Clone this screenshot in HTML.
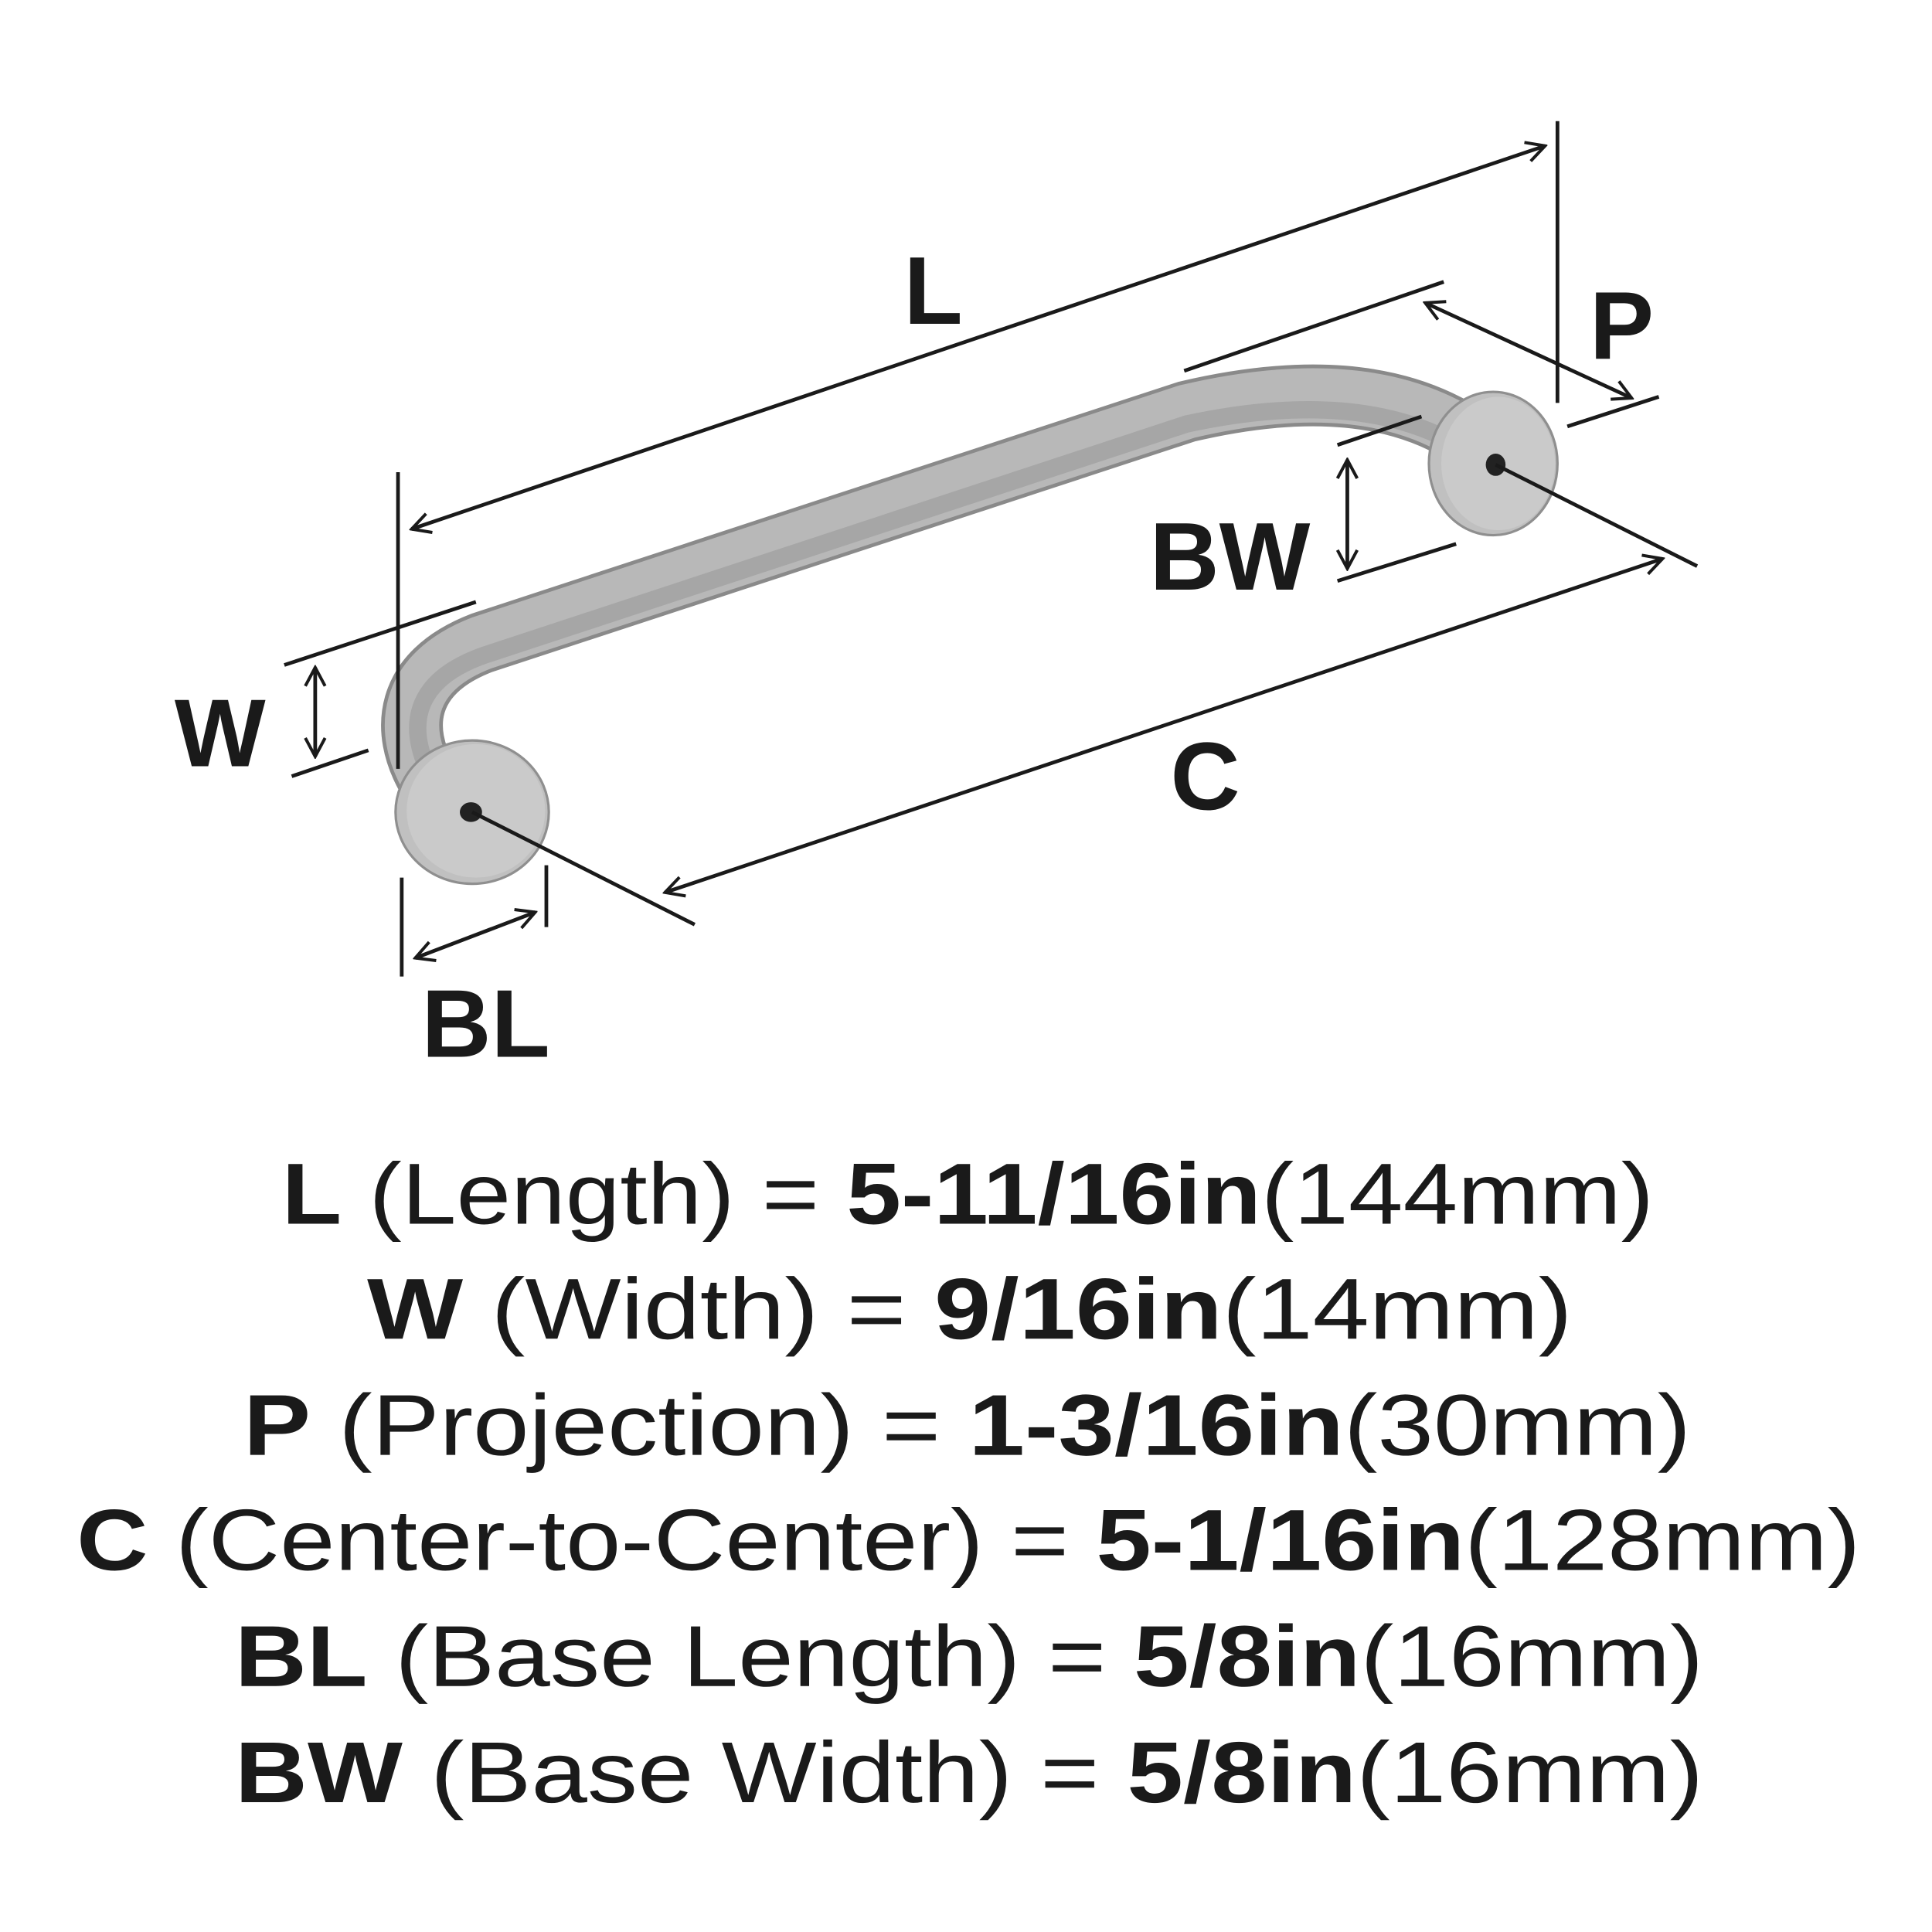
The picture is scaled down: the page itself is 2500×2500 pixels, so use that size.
<!DOCTYPE html>
<html><head><meta charset="utf-8"><style>html,body{margin:0;padding:0;background:#fff}svg{display:block}</style></head>
<body>
<svg width="2500" height="2500" viewBox="0 0 1563 1563" xmlns="http://www.w3.org/2000/svg">
<defs>
<marker id="a" viewBox="0 0 20 20" refX="18" refY="10" markerWidth="20" markerHeight="20" orient="auto-start-reverse" markerUnits="userSpaceOnUse"><path d="M3,2 L18,10 L3,18" fill="none" stroke="#1a1a1a" stroke-width="2.5"/></marker>
</defs>
<!-- handle -->
<path d="M345,628 C325,592 325,545 390,520 L960,333 Q1100,300 1182,350" fill="none" stroke="#8a8a8a" stroke-width="50" stroke-linecap="round"/>
<path d="M345,628 C325,592 325,545 390,520 L960,333 Q1100,300 1182,350" fill="none" stroke="#b8b8b8" stroke-width="44" stroke-linecap="round"/>
<path d="M343,615 C332,585 335,550 392,530 L960,343 Q1090,315 1170,355" fill="none" stroke="#a6a6a6" stroke-width="14" stroke-linecap="round"/>
<ellipse cx="382" cy="657" rx="62" ry="58" fill="#c0c0c0" stroke="#8f8f8f" stroke-width="2"/>
<ellipse cx="385" cy="656" rx="56" ry="54" fill="#cacaca"/>
<ellipse cx="381" cy="657" rx="9" ry="8" fill="#222"/>
<ellipse cx="1208" cy="375" rx="52" ry="58" fill="#c0c0c0" stroke="#8f8f8f" stroke-width="2"/>
<ellipse cx="1212" cy="375" rx="46" ry="54" fill="#cacaca"/>
<ellipse cx="1210" cy="376" rx="8" ry="9" fill="#222"/>
<g stroke="#1a1a1a" stroke-width="3" fill="none">
<line x1="322" y1="382" x2="322" y2="622"/>
<line x1="1260" y1="98" x2="1260" y2="326"/>
<line x1="333" y1="428" x2="1250" y2="118" marker-start="url(#a)" marker-end="url(#a)"/>
<line x1="958" y1="300" x2="1168" y2="228"/>
<line x1="1268" y1="345" x2="1342" y2="321"/>
<line x1="1153" y1="245" x2="1320" y2="322" marker-start="url(#a)" marker-end="url(#a)"/>
<line x1="1082" y1="360" x2="1150" y2="337"/>
<line x1="1082" y1="470" x2="1178" y2="440"/>
<line x1="1090" y1="372" x2="1090" y2="460" marker-start="url(#a)" marker-end="url(#a)"/>
<line x1="230" y1="538" x2="385" y2="487"/>
<line x1="236" y1="628" x2="298" y2="607"/>
<line x1="255" y1="540" x2="255" y2="612" marker-start="url(#a)" marker-end="url(#a)"/>
<line x1="382" y1="657" x2="562" y2="748"/>
<line x1="1210" y1="376" x2="1373" y2="458"/>
<line x1="538" y1="722" x2="1345" y2="452" marker-start="url(#a)" marker-end="url(#a)"/>
<line x1="325" y1="710" x2="325" y2="790"/>
<line x1="442" y1="700" x2="442" y2="750"/>
<line x1="336" y1="775" x2="433" y2="738" marker-start="url(#a)" marker-end="url(#a)"/>
</g>
<g font-family="Liberation Sans, sans-serif" font-weight="bold" font-size="78" fill="#1a1a1a" text-anchor="middle">
<text x="755" y="262">L</text>
<text x="1312" y="290">P</text>
<text x="995" y="477">BW</text>
<text x="178" y="620">W</text>
<text x="975" y="655">C</text>
<text x="393" y="855">BL</text>
</g>
<g font-family="Liberation Sans, sans-serif" font-size="70" fill="#1a1a1a">
<text x="228" y="990" textLength="1110" lengthAdjust="spacingAndGlyphs"><tspan font-weight="bold">L</tspan> (Length) = <tspan font-weight="bold">5-11/16in</tspan>(144mm)</text>
<text x="297" y="1083" textLength="975" lengthAdjust="spacingAndGlyphs"><tspan font-weight="bold">W</tspan> (Width) = <tspan font-weight="bold">9/16in</tspan>(14mm)</text>
<text x="197" y="1177" textLength="1171" lengthAdjust="spacingAndGlyphs"><tspan font-weight="bold">P</tspan> (Projection) = <tspan font-weight="bold">1-3/16in</tspan>(30mm)</text>
<text x="62" y="1270" textLength="1443" lengthAdjust="spacingAndGlyphs"><tspan font-weight="bold">C</tspan> (Center-to-Center) = <tspan font-weight="bold">5-1/16in</tspan>(128mm)</text>
<text x="190" y="1364" textLength="1188" lengthAdjust="spacingAndGlyphs"><tspan font-weight="bold">BL</tspan> (Base Length) = <tspan font-weight="bold">5/8in</tspan>(16mm)</text>
<text x="190" y="1458" textLength="1188" lengthAdjust="spacingAndGlyphs"><tspan font-weight="bold">BW</tspan> (Base Width) = <tspan font-weight="bold">5/8in</tspan>(16mm)</text>
</g>
</svg>
</body></html>
